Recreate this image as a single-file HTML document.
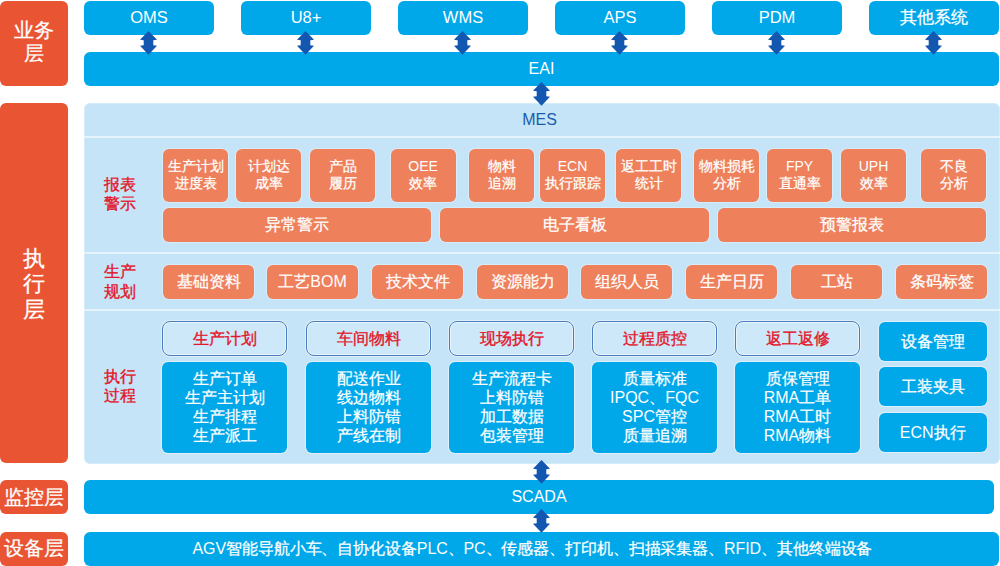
<!DOCTYPE html>
<html><head><meta charset="utf-8">
<style>
*{margin:0;padding:0;box-sizing:border-box}
html,body{width:1000px;height:566px;overflow:hidden;background:#fff}
body{position:relative;font-family:"Liberation Sans",sans-serif;color:#fff;-webkit-text-stroke-width:0.25px}
.lat{-webkit-text-stroke-width:0}
.lbl,.hd{-webkit-text-stroke-width:0.35px}
.a{position:absolute}
.or{background:#e95532;border-radius:6px;color:#fff;text-align:center}
.bl{background:#00a8ea;border-radius:6px;color:#fff;text-align:center}
.top{top:1px;height:34px;width:130px;font-size:16.5px;line-height:33px}
.sal{background:#ee805c;border-radius:6px;box-shadow:0 0 0 1px rgba(255,255,255,.3);color:#fff;text-align:center}
.r1{top:148.5px;height:53.2px;width:65px;font-size:14px;line-height:17px;padding-top:9.8px}
.r2{top:208px;height:34px;font-size:16px;line-height:34px}
.r3{top:265px;height:34px;width:91px;font-size:16px;line-height:34px}
.lbl{color:#e3162a;font-size:16px;line-height:19.5px;left:103.8px;width:34px}
.hd{top:321px;height:35px;width:125px;border:1.5px solid #4a7cc0;border-radius:8px;background:#cde8f8;box-shadow:inset 0 0 0 1px rgba(255,255,255,.55),0 0 0 1px rgba(255,255,255,.45);color:#e3162a;font-size:16px;line-height:33px;text-align:center}
.bd{top:362px;height:90.5px;width:125px;box-shadow:0 0 0 1px rgba(255,255,255,.45);background:#00a8ea;border-radius:6px;font-size:16px;line-height:19.1px;text-align:center;padding-top:7px}
.rb{left:878.5px;width:108.5px;height:39px;box-shadow:0 0 0 1px rgba(255,255,255,.45);background:#00a8ea;border-radius:6px;font-size:16px;line-height:39px;text-align:center}
.sep{left:84px;width:916px;height:2px;background:#e6f3fc}
svg.ar{position:absolute;width:17px;height:24px}
</style></head><body>
<!-- layer labels -->
<div class="a or" style="left:0;top:1px;width:68px;height:85px;font-size:20px;line-height:23px;padding-top:18px">业务<br>层</div>
<div class="a or" style="left:0;top:103px;width:68px;height:360px;font-size:22px;line-height:25.5px;padding-top:142.5px">执<br>行<br>层</div>
<div class="a or" style="left:0;top:480px;width:68px;height:34px;font-size:20px;line-height:33px;padding-top:1px">监控层</div>
<div class="a or" style="left:0;top:532px;width:68px;height:34px;font-size:20px;line-height:33px">设备层</div>

<!-- top systems -->
<div class="a bl top lat" style="left:84px"><span class="lat">OMS</span></div>
<div class="a bl top lat" style="left:241px"><span class="lat">U8+</span></div>
<div class="a bl top lat" style="left:398px"><span class="lat">WMS</span></div>
<div class="a bl top lat" style="left:555px"><span class="lat">APS</span></div>
<div class="a bl top lat" style="left:712px"><span class="lat">PDM</span></div>
<div class="a bl top" style="left:869px">其他系统</div>

<div class="a bl lat" style="left:84px;top:52px;width:915px;height:34px;font-size:16px;line-height:34px"><span class="lat">EAI</span></div>

<!-- MES panel -->
<div class="a" style="left:84px;top:103px;width:916px;height:360.5px;background:#c6e4f7;border-radius:6px;box-shadow:inset 0 0 0 1px rgba(255,255,255,.25)"></div>
<div class="a lat" style="left:82px;top:109px;width:915px;text-align:center;color:#1a5cab;font-size:16px;line-height:22px"><span class="lat">MES</span></div>
<div class="a sep" style="top:136px"></div>
<div class="a sep" style="top:252px"></div>
<div class="a sep" style="top:309px"></div>

<div class="a lbl" style="top:176px;line-height:18.5px">报表<br>警示</div>
<div class="a lbl" style="top:262px">生产<br>规划</div>
<div class="a lbl" style="top:367px;line-height:19px">执行<br>过程</div>

<!-- row1 -->
<div class="a sal r1" style="left:163px">生产计划<br>进度表</div>
<div class="a sal r1" style="left:236px">计划达<br>成率</div>
<div class="a sal r1" style="left:310px">产品<br>履历</div>
<div class="a sal r1" style="left:390.6px"><span class="lat">OEE</span><br>效率</div>
<div class="a sal r1" style="left:469px">物料<br>追溯</div>
<div class="a sal r1" style="left:540px"><span class="lat">ECN</span><br>执行跟踪</div>
<div class="a sal r1" style="left:616px">返工工时<br>统计</div>
<div class="a sal r1" style="left:694px">物料损耗<br>分析</div>
<div class="a sal r1" style="left:767px"><span class="lat">FPY</span><br>直通率</div>
<div class="a sal r1" style="left:841px"><span class="lat">UPH</span><br>效率</div>
<div class="a sal r1" style="left:921px">不良<br>分析</div>

<div class="a sal r2" style="left:163px;width:268px">异常警示</div>
<div class="a sal r2" style="left:440px;width:269px">电子看板</div>
<div class="a sal r2" style="left:718px;width:268px">预警报表</div>

<!-- row plan -->
<div class="a sal r3" style="left:163px">基础资料</div>
<div class="a sal r3" style="left:267px">工艺<span class="lat">BOM</span></div>
<div class="a sal r3" style="left:372px">技术文件</div>
<div class="a sal r3" style="left:477px">资源能力</div>
<div class="a sal r3" style="left:581px">组织人员</div>
<div class="a sal r3" style="left:686px">生产日历</div>
<div class="a sal r3" style="left:791px">工站</div>
<div class="a sal r3" style="left:896px">条码标签</div>

<!-- exec -->
<div class="a hd" style="left:162px">生产计划</div>
<div class="a hd" style="left:306px">车间物料</div>
<div class="a hd" style="left:449px">现场执行</div>
<div class="a hd" style="left:592px">过程质控</div>
<div class="a hd" style="left:735px">返工返修</div>
<div class="a bd" style="left:162px">生产订单<br>生产主计划<br>生产排程<br>生产派工</div>
<div class="a bd" style="left:306px">配送作业<br>线边物料<br>上料防错<br>产线在制</div>
<div class="a bd" style="left:449px">生产流程卡<br>上料防错<br>加工数据<br>包装管理</div>
<div class="a bd" style="left:592px">质量标准<br><span class="lat">IPQC</span>、<span class="lat">FQC</span><br><span class="lat">SPC</span>管控<br>质量追溯</div>
<div class="a bd" style="left:735px">质保管理<br><span class="lat">RMA</span>工单<br><span class="lat">RMA</span>工时<br><span class="lat">RMA</span>物料</div>
<div class="a rb" style="top:322px">设备管理</div>
<div class="a rb" style="top:367px">工装夹具</div>
<div class="a rb" style="top:412.5px;height:39.5px"><span class="lat">ECN</span>执行</div>

<!-- SCADA / device -->
<div class="a bl lat" style="left:84px;top:480px;width:910px;height:34px;font-size:16px;line-height:34px"><span class="lat">SCADA</span></div>
<div class="a bl" style="left:84px;top:532px;width:915px;height:34px;font-size:16px;line-height:33px;text-align:left;padding-left:108.5px;letter-spacing:-0.1px"><span class="lat">AGV</span>智能导航小车、自协化设备<span class="lat">PLC</span>、<span class="lat">PC</span>、传感器、打印机、扫描采集器、<span class="lat">RFID</span>、其他终端设备</div>

<!-- arrows -->
<svg width="0" height="0" style="position:absolute"><defs><path id="arr" d="M8.5 0 L17 8.7 L13.3 9.2 L13.3 14.3 L17 14.7 L8.5 23.7 L0 14.7 L3.7 14.3 L3.7 9.2 L0 8.7 Z" fill="#1357b1"/></defs></svg>
<svg class="ar" style="left:140.2px;top:30.6px" viewBox="0 0 17 24"><use href="#arr"/></svg>
<svg class="ar" style="left:297.2px;top:30.6px" viewBox="0 0 17 24"><use href="#arr"/></svg>
<svg class="ar" style="left:454.2px;top:30.6px" viewBox="0 0 17 24"><use href="#arr"/></svg>
<svg class="ar" style="left:611.2px;top:30.6px" viewBox="0 0 17 24"><use href="#arr"/></svg>
<svg class="ar" style="left:768.2px;top:30.6px" viewBox="0 0 17 24"><use href="#arr"/></svg>
<svg class="ar" style="left:925.2px;top:30.6px" viewBox="0 0 17 24"><use href="#arr"/></svg>
<svg class="ar" style="left:533px;top:81.5px" viewBox="0 0 17 24"><use href="#arr"/></svg>
<svg class="ar" style="left:533px;top:460.2px" viewBox="0 0 17 24"><use href="#arr"/></svg>
<svg class="ar" style="left:533px;top:509.2px" viewBox="0 0 17 24"><use href="#arr"/></svg>
</body></html>
